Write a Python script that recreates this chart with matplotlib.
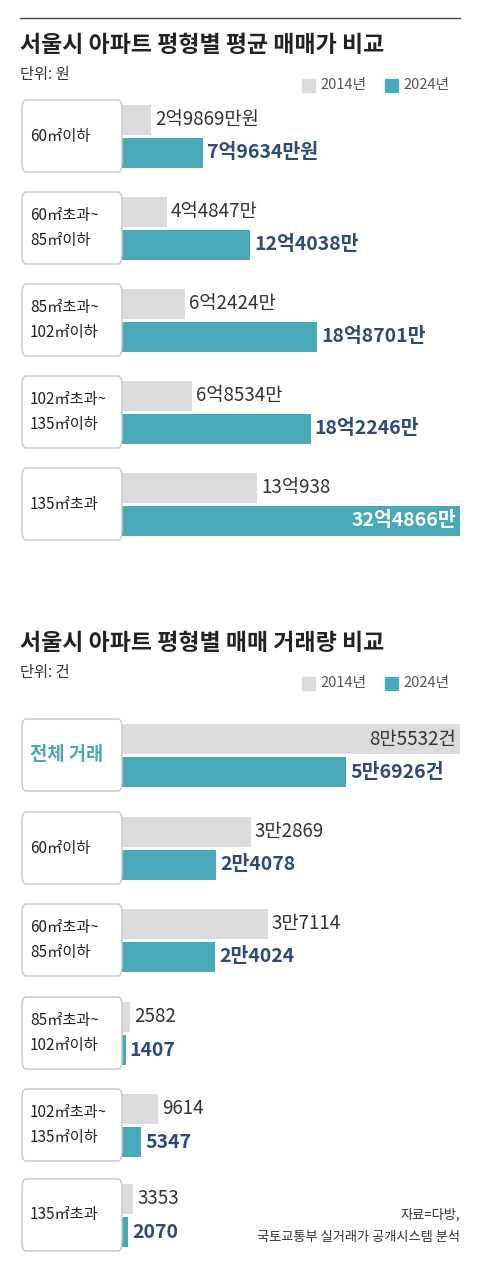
import matplotlib
matplotlib.use("Agg")
import matplotlib.pyplot as plt
from matplotlib.patches import FancyBboxPatch, Rectangle

plt.rcParams["font.family"] = ["Noto Sans CJK KR", "DejaVu Sans"]

W, H = 480, 1280
GRAY, TEAL, NAVY, TXT = "#dcdcdf", "#4aa9b8", "#2d4a78", "#333333"

# chart 1: average price (unit: 만원)
cats1 = ["60㎡이하", "60㎡초과~\n85㎡이하", "85㎡초과~\n102㎡이하", "102㎡초과~\n135㎡이하", "135㎡초과"]
p2014 = [29869, 44847, 62424, 68534, 130938]
p2024 = [79634, 124038, 188701, 182246, 324866]
lab1_2014 = ["2억9869만원", "4억4847만", "6억2424만", "6억8534만", "13억938"]
lab1_2024 = ["7억9634만원", "12억4038만", "18억8701만", "18억2246만", "32억4866만"]

# chart 2: transaction count
cats2 = ["전체 거래", "60㎡이하", "60㎡초과~\n85㎡이하", "85㎡초과~\n102㎡이하", "102㎡초과~\n135㎡이하", "135㎡초과"]
n2014 = [85532, 32869, 37114, 2582, 9614, 3353]
n2024 = [56926, 24078, 24024, 1407, 5347, 2070]
lab2_2014 = ["8만5532건", "3만2869", "3만7114", "2582", "9614", "3353"]
lab2_2024 = ["5만6926건", "2만4078", "2만4024", "1407", "5347", "2070"]

fig = plt.figure(figsize=(W / 100, H / 100), dpi=100)


def fx(x):
    return x / W


def fy(y):
    return 1 - y / H


fig.add_artist(plt.Line2D([fx(20), fx(460)], [fy(18), fy(18)], color="#444", lw=1))


def legend(y):
    for x, c, t in [(302, GRAY, "2014년"), (385, TEAL, "2024년")]:
        fig.add_artist(Rectangle((fx(x), fy(y + 7)), fx(13), 13 / H, color=c,
                                 transform=fig.transFigure))
        fig.text(fx(x + 18), fy(y), t, fontsize=10.5, color="#555", va="center")


def chart(top, title, unit, cats, v14, v24, l14, l24, centers, vmax):
    fig.text(fx(20), fy(top), title, fontsize=16.5, fontweight="bold", va="center", color="#222")
    fig.text(fx(20), fy(top + 30), unit, fontsize=11, va="center", color="#333")
    legend(top + 40)
    y0, y1 = centers[0] - 45, centers[-1] + 45
    for i, c in enumerate(centers):
        box = FancyBboxPatch((fx(22), fy(c + 36)), fx(100), 72 / H,
                             boxstyle="round,pad=0,rounding_size=0.008",
                             transform=fig.transFigure, fc="white", ec="#c8c8c8", lw=1)
        fig.add_artist(box)
        first = cats[i] == "전체 거래"
        fig.text(fx(30), fy(c), cats[i], fontsize=13.5 if first else 11, va="center",
                 color=TEAL if first else "#222", fontweight="bold" if first else "normal",
                 linespacing=1.6)
    ax = fig.add_axes([fx(120), fy(y1), fx(340), (y1 - y0) / H])
    ax.set_xlim(0, vmax)
    ax.set_ylim(y1, y0)
    ax.axis("off")
    for i, c in enumerate(centers):
        ax.barh(c - 16, v14[i], height=30, color=GRAY)
        ax.barh(c + 17, v24[i], height=30, color=TEAL)
        off = vmax * 0.012
        if v14[i] > vmax * 0.9:
            ax.text(v14[i] - off, c - 16, l14[i], ha="right", va="center", fontsize=13.5, color=TXT)
        else:
            ax.text(v14[i] + off, c - 16, l14[i], ha="left", va="center", fontsize=13.5, color=TXT)
        if v24[i] > vmax * 0.9:
            ax.text(v24[i] - off, c + 17, l24[i], ha="right", va="center", fontsize=14,
                    color="white", fontweight="bold")
        else:
            ax.text(v24[i] + off, c + 17, l24[i], ha="left", va="center", fontsize=14,
                    color=NAVY, fontweight="bold")


chart(45, "서울시 아파트 평형별 평균 매매가 비교", "단위: 원", cats1, p2014, p2024,
      lab1_2014, lab1_2024, [136, 228, 320, 412, 504], 324866)
chart(643, "서울시 아파트 평형별 매매 거래량 비교", "단위: 건", cats2, n2014, n2024,
      lab2_2014, lab2_2024, [755, 848, 940, 1033, 1125, 1215], 85532)

fig.text(fx(460), fy(1215), "자료=다방,", ha="right", va="center", fontsize=9.5, color="#333")
fig.text(fx(460), fy(1237), "국토교통부 실거래가 공개시스템 분석", ha="right", va="center",
         fontsize=9.5, color="#333")

fig.savefig("out.png", dpi=100, facecolor="white")
